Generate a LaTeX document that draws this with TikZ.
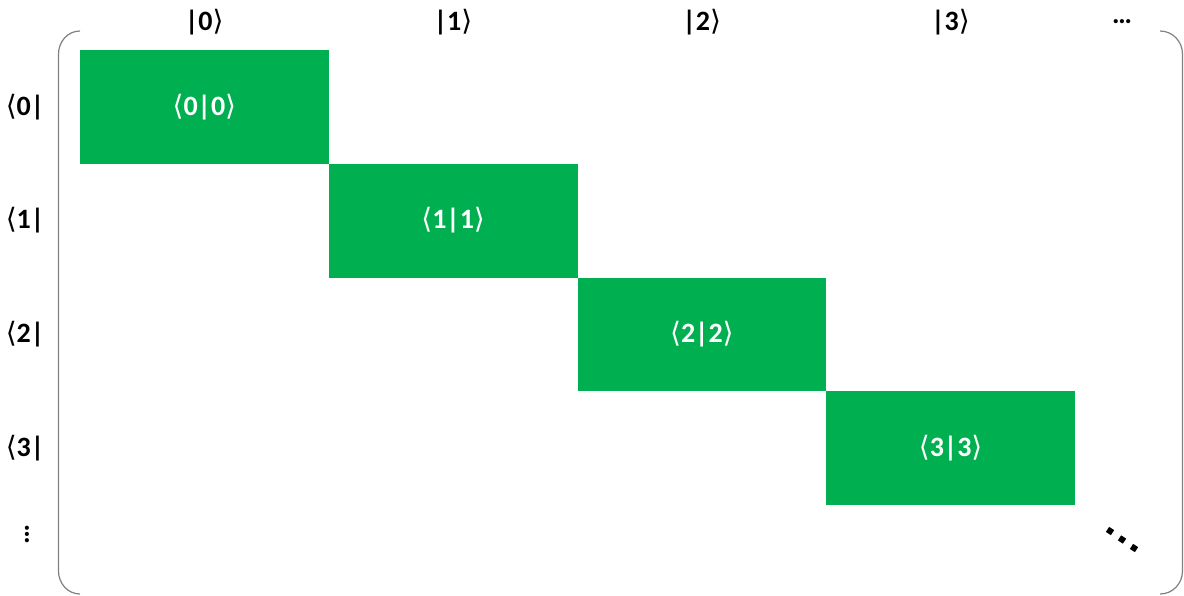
\documentclass[tikz,border=0pt]{standalone}
\usepackage{fontspec}
\setmainfont{Carlito}
\newfontfamily\anglefont{DejaVu Sans}
\usepackage[dvipsnames]{xcolor}
\definecolor{cellg}{HTML}{00B050}
\definecolor{brk}{HTML}{808080}
\usetikzlibrary{positioning}
\newcommand{\la}{{\anglefont\mdseries ⟨}}
\newcommand{\ra}{{\anglefont\mdseries ⟩}}
\newcommand{\brastate}[1]{\la#1|}
\newcommand{\ketstate}[1]{|#1\ra}
\tikzset{
  cell/.style={fill=cellg,draw=none,minimum width=124.375pt,minimum height=56.875pt,inner sep=0pt,outer sep=0pt,text=white,font=\fontsize{14}{16}\bfseries\selectfont},
  lab/.style={inner sep=1pt,font=\fontsize{14}{16}\bfseries\selectfont},
  brack/.style={draw=brk,line width=0.6pt},
  sq/.style={fill=black,inner sep=0pt,minimum size=3pt,rotate=-33},
}
\begin{document}
\begin{tikzpicture}[x=0.5pt,y=-0.5pt]
\useasboundingbox (0,0) rectangle (1184,595);
% diagonal blocks
\node[cell,anchor=north west] (c0) at (80,50) {\la0|0\ra};
\node[cell,below right=0pt and 0pt of c0] (c1) {\la1|1\ra};
\node[cell,below right=0pt and 0pt of c1] (c2) {\la2|2\ra};
\node[cell,below right=0pt and 0pt of c2] (c3) {\la3|3\ra};
% column and row labels
\foreach \i in {0,...,3}{
  \node[lab] (k\i) at (c\i.center |- 0,22) {\ketstate{\i}};
  \node[lab] (b\i) at (c\i.center -| 25,0) {\brastate{\i}};
}
\node[lab] (kd) at (1122,22) {…};
\node[lab,rotate=-90] (bd) at (27,534) {…};
% bracket sides
\draw[brack] (80,31) to[out=180,in=90] (58.5,54) -- (58.5,571) to[out=-90,in=180] (80,594);
\draw[brack] (1160,31) to[out=0,in=90] (1182.5,54) -- (1182.5,571) to[out=-90,in=0] (1160,594);
% trailing diagonal dots
\node[sq] (d0) at (1110,531) {};
\node[sq] (d1) at (1122,539.5) {};
\node[sq] (d2) at (1134,548) {};
\end{tikzpicture}
\end{document}
